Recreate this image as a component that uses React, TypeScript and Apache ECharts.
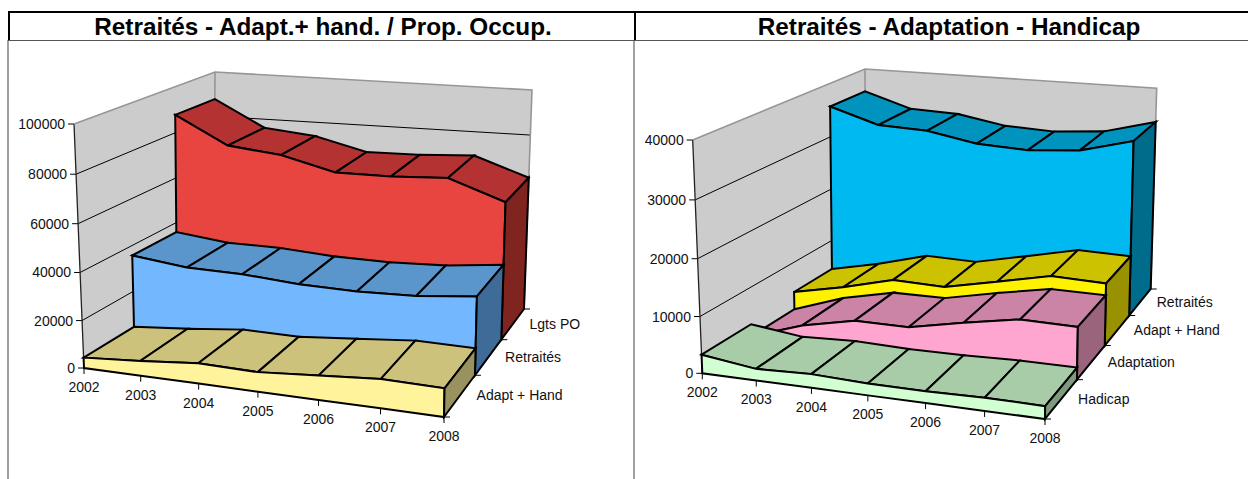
import React, { useEffect, useRef } from "react";
import * as echarts from "echarts";

const years = ["2002", "2003", "2004", "2005", "2006", "2007", "2008"];
const lgtsPO = [87800, 76100, 73700, 67900, 68100, 69300, 60800];
const retraites = [35700, 32900, 32500, 30800, 30300, 31000, 33500];
const adaptHand = [4400, 6200, 8500, 8100, 10000, 12000, 11600];
const adaptation = [1100, 4150, 6100, 6000, 7900, 9600, 9400];
const hadicap = [3300, 2050, 2400, 2060, 2050, 2260, 2180];
const ticksLeft = [0, 20000, 40000, 60000, 80000, 100000];
const ticksRight = [0, 10000, 20000, 30000, 40000];
const namesLeft = ["Adapt + Hand", "Retraités", "Lgts PO"];
const namesRight = ["Hadicap", "Adaptation", "Adapt + Hand", "Retraités"];
const titleLeft = "Retraités - Adapt.+ hand. / Prop. Occup.";
const titleRight = "Retraités - Adaptation - Handicap";

const FONT = '"Liberation Sans", Arial, sans-serif';

type P = [number, number];
type View = { floor: P[]; top: P[]; kU: number; kW: number; kV: number };

// corners: front-left, front-right, back-right, back-left
const viewLeft: View = {
  floor: [[84, 368], [444, 417], [524, 309], [214, 287]],
  top: [[74, 124], [449, 162], [532, 90], [215, 72]],
  kU: 0.07,
  kW: 0.26,
  kV: -0.035,
};
const viewRight: View = {
  floor: [[702.3, 373.3], [1045, 419], [1150.7, 289], [865.5, 270]],
  top: [[692.7, 140], [1048, 175], [1156.7, 88.3], [865, 69]],
  kU: 0.07,
  kW: 0.3,
  kV: -0.035,
};

function bil(c: P[], a: number, b: number): P {
  const x0 = c[0][0] + (c[1][0] - c[0][0]) * a;
  const y0 = c[0][1] + (c[1][1] - c[0][1]) * a;
  const x1 = c[3][0] + (c[2][0] - c[3][0]) * a;
  const y1 = c[3][1] + (c[2][1] - c[3][1]) * a;
  return [x0 + (x1 - x0) * b, y0 + (y1 - y0) * b];
}

function project(view: View, u: number, w: number, v: number): P {
  const a = u / (1 + view.kU * (1 - u));
  const b = (w * (1 + view.kW)) / (1 + view.kW * w);
  const h = (v * (1 + view.kV)) / (1 + view.kV * v);
  const f = bil(view.floor, a, b);
  const t = bil(view.top, a, b);
  return [f[0] + (t[0] - f[0]) * h, f[1] + (t[1] - f[1]) * h];
}

// read normalised position along the category / value axes from the library's scales
function uv(api: any, params: any, i: number, val: number): P {
  const p = api.coord([i, val]);
  const c = params.coordSys;
  return [(p[0] - c.x) / c.width, (c.y + c.height - p[1]) / c.height];
}

const BORDER = { stroke: "#000", lineWidth: 2, lineJoin: "miter" };

function areaSeries(view: View, axis: number, vals: number[], w0: number, w1: number, fills: string[]) {
  return {
    type: "custom",
    coordinateSystem: "cartesian2d",
    xAxisIndex: axis,
    yAxisIndex: axis,
    silent: true,
    data: vals.map((v, i) => [i, v]),
    renderItem: (params: any, api: any) => {
      if (params.dataIndex !== 0) return null;
      const pts = vals.map((val, i) => uv(api, params, i, val));
      const base = vals.map((_, i) => uv(api, params, i, 0));
      const children: any[] = [];
      const n = vals.length;
      // top strips
      for (let i = 0; i < n - 1; i++) {
        children.push({
          type: "polygon",
          shape: {
            points: [
              project(view, pts[i][0], w0, pts[i][1]),
              project(view, pts[i + 1][0], w0, pts[i + 1][1]),
              project(view, pts[i + 1][0], w1, pts[i + 1][1]),
              project(view, pts[i][0], w1, pts[i][1]),
            ],
          },
          style: { fill: fills[1], ...BORDER },
        });
      }
      // front face
      const front: P[] = [];
      for (let i = 0; i < n; i++) front.push(project(view, pts[i][0], w0, pts[i][1]));
      for (let i = n - 1; i >= 0; i--) front.push(project(view, base[i][0], w0, 0));
      children.push({ type: "polygon", shape: { points: front }, style: { fill: fills[0], ...BORDER } });
      // right side
      const last = pts[n - 1];
      children.push({
        type: "polygon",
        shape: {
          points: [
            project(view, last[0], w0, last[1]),
            project(view, last[0], w1, last[1]),
            project(view, last[0], w1, 0),
            project(view, last[0], w0, 0),
          ],
        },
        style: { fill: fills[2], ...BORDER },
      });
      return { type: "group", children };
    },
  };
}

function label(x: number, y: number, text: string, align: string) {
  return {
    type: "text",
    style: {
      x, y, text, fill: "#111", font: `14px ${FONT}`,
      align, verticalAlign: "middle", textAlign: align, textVerticalAlign: "middle",
    },
  };
}

function line(a: P, b: P, stroke: string, lineWidth: number) {
  return { type: "line", shape: { x1: a[0], y1: a[1], x2: b[0], y2: b[1] }, style: { stroke, lineWidth } };
}

function wallSeries(view: View, axis: number, ticks: number[], names: string[]) {
  return {
    type: "custom",
    coordinateSystem: "cartesian2d",
    xAxisIndex: axis,
    yAxisIndex: axis,
    silent: true,
    data: [[0, 0]],
    renderItem: (params: any, api: any) => {
      const c: any[] = [];
      const P0 = (u: number, w: number, v: number) => project(view, u, w, v);
      const GREY = "#969696";
      c.push({
        type: "polygon",
        shape: { points: [P0(0, 0, 0), P0(0, 1, 0), P0(0, 1, 1), P0(0, 0, 1)] },
        style: { fill: "#cccccc" },
      });
      c.push({
        type: "polygon",
        shape: { points: [P0(0, 1, 0), P0(1, 1, 0), P0(1, 1, 1), P0(0, 1, 1)] },
        style: { fill: "#cccccc" },
      });
      ticks.forEach((t) => {
        const v = uv(api, params, 0, t)[1];
        if (v > 0 && v < 1) {
          c.push({
            type: "polyline",
            shape: { points: [P0(0, 0, v), P0(0, 1, v), P0(1, 1, v)] },
            style: { stroke: "#000", lineWidth: 1, fill: "none" },
          });
        }
        const a = P0(0, 0, v);
        c.push(line([a[0] - 6, a[1]], a, "#000", 1));
        c.push(label(a[0] - 9, a[1], String(t), "right"));
      });
      c.push(line(P0(0, 0, 0), P0(0, 0, 1), "#222", 1.3));
      c.push({
        type: "polyline",
        shape: { points: [P0(0, 0, 1), P0(0, 1, 1), P0(1, 1, 1), P0(1, 1, 0)] },
        style: { stroke: GREY, lineWidth: 1.6, fill: "none" },
      });
      c.push(line(P0(0, 1, 1), P0(0, 1, 0), GREY, 1.6));
      // category ticks and labels
      years.forEach((y, i) => {
        const u = uv(api, params, i, 0)[0];
        const a = P0(u, 0, 0);
        c.push(line(a, [a[0], a[1] + 6], "#000", 1));
        c.push(label(a[0], a[1] + 19, y, "center"));
      });
      // depth ticks and labels
      for (let k = 0; k <= names.length; k++) {
        const a = P0(1, k / names.length, 0);
        c.push(line(a, [a[0] + 6, a[1]], "#000", 1));
      }
      names.forEach((n, k) => {
        const m = P0(1, (k + 0.5) / names.length, 0);
        c.push(label(m[0] + 16.5, m[1], n, "left"));
      });
      return { type: "group", children: c };
    },
  };
}

export default function App() {
  const ref = useRef<HTMLDivElement>(null);
  useEffect(() => {
    const chart = echarts.init(ref.current!, undefined, { renderer: "svg" });
    const titleStyle = { color: "#000", fontFamily: FONT, fontWeight: "bold", fontSize: 24.3 };
    chart.setOption({
      animation: false,
      backgroundColor: "#fff",
      title: [
        { text: titleLeft, left: 323, top: 14, textAlign: "center", padding: 0, textStyle: titleStyle },
        { text: titleRight, left: 949, top: 14, textAlign: "center", padding: 0, textStyle: titleStyle },
      ],
      graphic: [
        { type: "rect", silent: true, shape: { x: 8, y: 11, width: 1240, height: 2 }, style: { fill: "#000" } },
        { type: "rect", silent: true, shape: { x: 8, y: 11, width: 2, height: 30 }, style: { fill: "#000" } },
        { type: "rect", silent: true, shape: { x: 634, y: 11, width: 2, height: 30 }, style: { fill: "#000" } },
        { type: "rect", silent: true, shape: { x: 8, y: 40, width: 1240, height: 1 }, style: { fill: "#555" } },
        { type: "rect", silent: true, shape: { x: 7.5, y: 40, width: 1, height: 439 }, style: { fill: "#444" } },
        { type: "rect", silent: true, shape: { x: 633.5, y: 40, width: 1, height: 439 }, style: { fill: "#444" } },
      ],
      grid: [
        { left: 84, top: 124, width: 360, height: 244 },
        { left: 702, top: 140, width: 343, height: 233 },
      ],
      xAxis: [
        { type: "category", gridIndex: 0, data: years, boundaryGap: false, show: false },
        { type: "category", gridIndex: 1, data: years, boundaryGap: false, show: false },
      ],
      yAxis: [
        { type: "value", gridIndex: 0, min: 0, max: 100000, interval: 20000, show: false },
        { type: "value", gridIndex: 1, min: 0, max: 40000, interval: 10000, show: false },
      ],
      series: [
        wallSeries(viewLeft, 0, ticksLeft, namesLeft),
        areaSeries(viewLeft, 0, lgtsPO, 2 / 3, 1, ["#e84540", "#b53232", "#802420"]),
        areaSeries(viewLeft, 0, retraites, 1 / 3, 2 / 3, ["#73b7ff", "#5a96cc", "#3f6b99"]),
        areaSeries(viewLeft, 0, adaptHand, 0, 1 / 3, ["#fff39b", "#ccc27c", "#99925e"]),
        wallSeries(viewRight, 1, ticksRight, namesRight),
        areaSeries(viewRight, 1, retraites, 0.75, 1, ["#00b9f0", "#0093be", "#006c8c"]),
        areaSeries(viewRight, 1, adaptHand, 0.5, 0.75, ["#fff200", "#ccc200", "#999100"]),
        areaSeries(viewRight, 1, adaptation, 0.25, 0.5, ["#ffa6d0", "#cc84a6", "#99647c"]),
        areaSeries(viewRight, 1, hadicap, 0, 0.25, ["#d2ffd2", "#a8cca8", "#7e997e"]),
      ],
    });
    return () => chart.dispose();
  }, []);
  return <div ref={ref} style={{ position: "absolute", left: 0, top: 0, width: 1248, height: 479 }} />;
}
